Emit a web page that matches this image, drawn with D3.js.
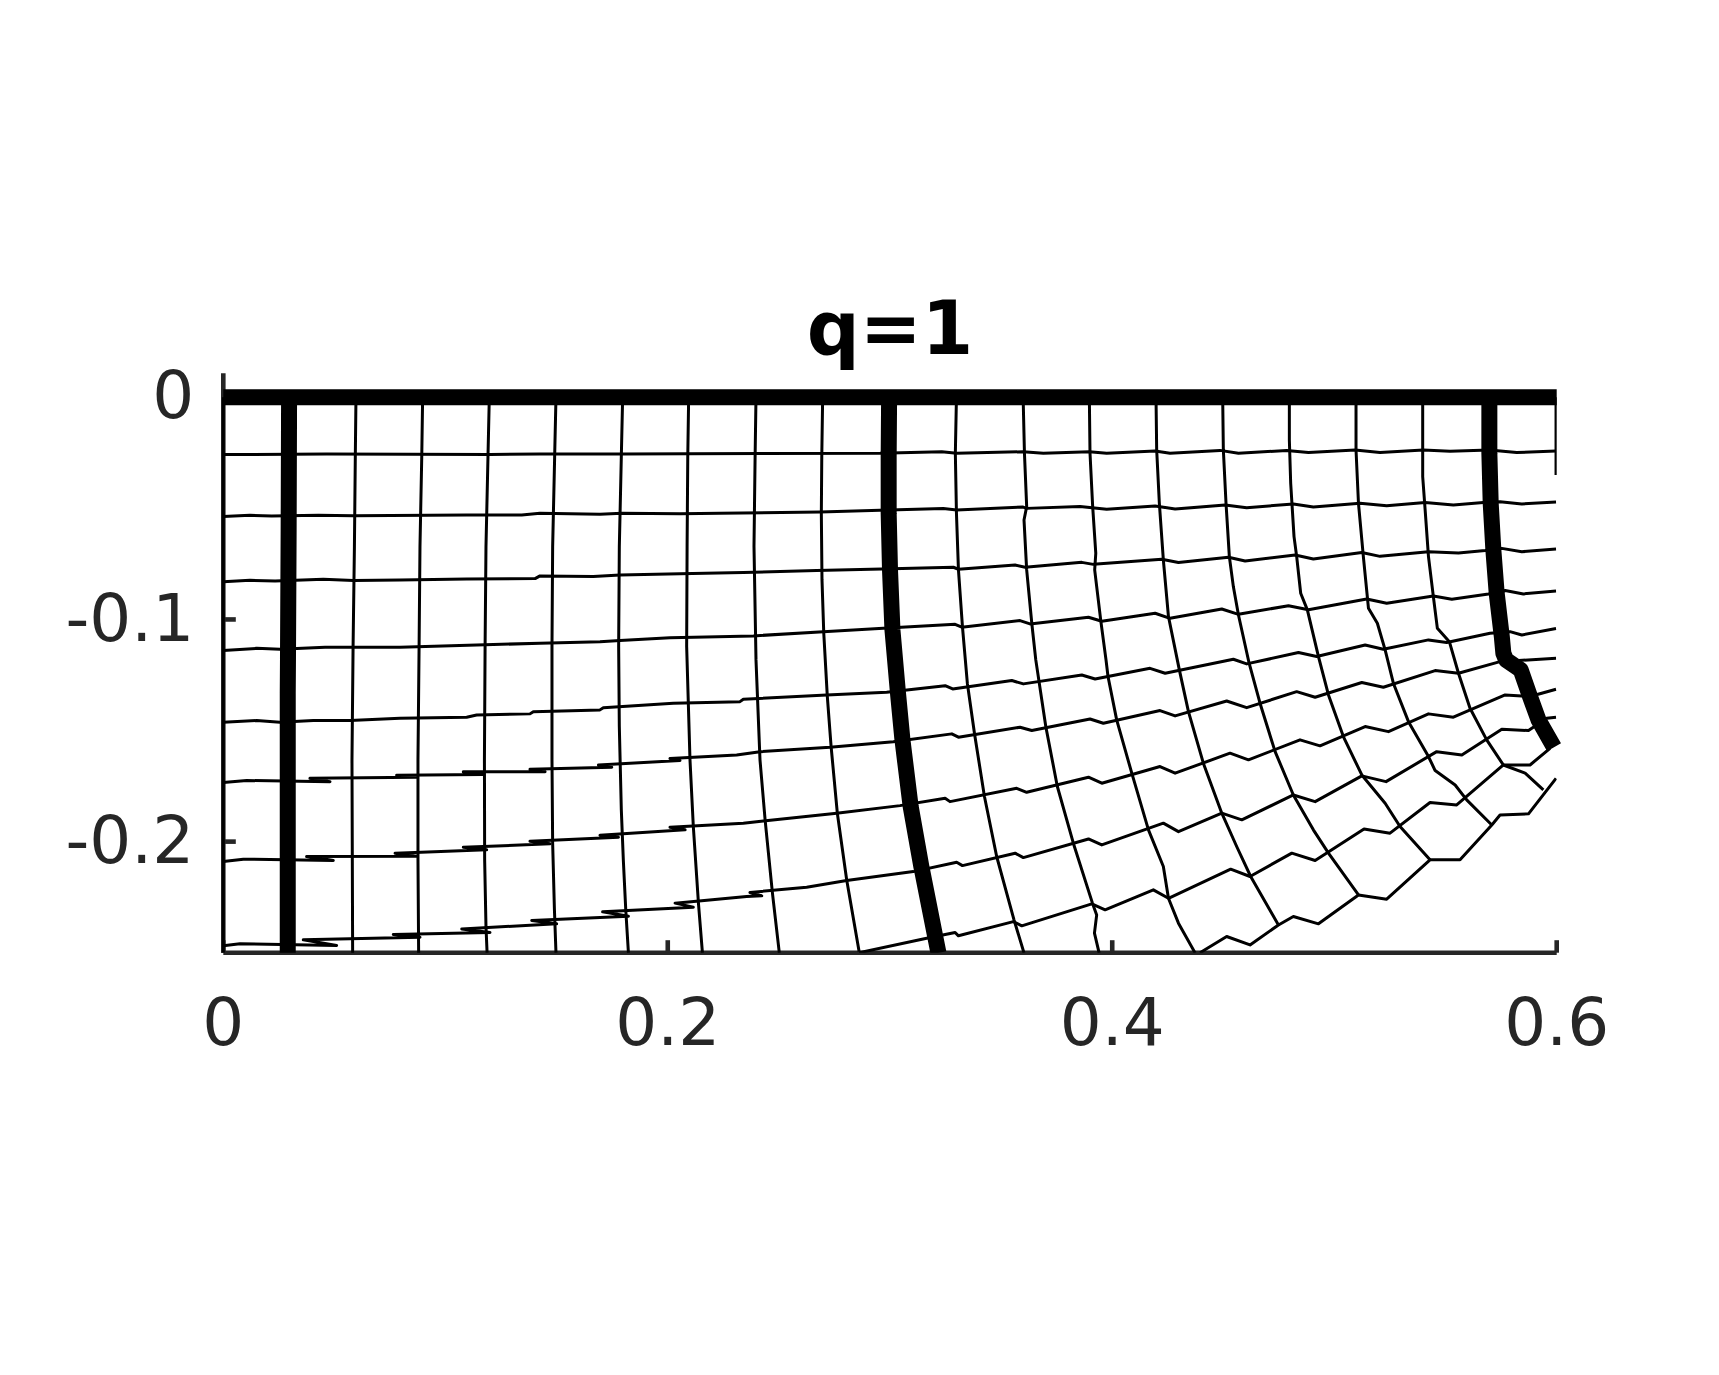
<!DOCTYPE html>
<html>
<head>
<meta charset="utf-8">
<script src="https://cdn.jsdelivr.net/npm/d3@7"></script>
<style>
	body { margin: 0; background: #fff; }
	text { font-family: "DejaVu Sans", sans-serif; }
</style>
</head>
<body>
<div id="chart"></div>
<script>
const title = "q=1";
const xTicks = [0, 0.2, 0.4, 0.6];
const yTicks = [0, -0.1, -0.2];

// mesh lines, [x, y]
const row0 = [[0,0],[0.6,0]];
const row1 = [[0,-0.0258],[0.0465,-0.0255],[0.12,-0.0258],[0.1425,-0.0255],[0.1797,-0.0255],[0.2093,-0.0254],[0.2955,-0.0252],[0.3233,-0.0245],[0.33,-0.0252],[0.3599,-0.0245],[0.369,-0.0252],[0.3897,-0.0245],[0.3975,-0.0252],[0.4193,-0.0242],[0.426,-0.0252],[0.4485,-0.0239],[0.4568,-0.0252],[0.4785,-0.0239],[0.4883,-0.0249],[0.5093,-0.0237],[0.5205,-0.0248],[0.54,-0.0237],[0.552,-0.0243],[0.5697,-0.0237],[0.582,-0.0249],[0.5997,-0.0242]];
const row2 = [[0,-0.0537],[0.012,-0.0531],[0.0218,-0.0534],[0.0428,-0.0531],[0.0585,-0.0533],[0.1095,-0.053],[0.1343,-0.053],[0.1425,-0.0522],[0.1695,-0.0527],[0.1793,-0.0522],[0.2055,-0.0524],[0.2235,-0.0522],[0.2685,-0.0516],[0.2955,-0.0509],[0.324,-0.0501],[0.33,-0.0507],[0.3599,-0.0494],[0.3615,-0.05],[0.3855,-0.0492],[0.3975,-0.0504],[0.4193,-0.0489],[0.4283,-0.0503],[0.4508,-0.0485],[0.4605,-0.0497],[0.4815,-0.048],[0.4905,-0.0494],[0.5115,-0.0477],[0.5235,-0.0488],[0.5408,-0.0474],[0.5535,-0.0485],[0.567,-0.0474],[0.5745,-0.047],[0.5843,-0.048],[0.5997,-0.0471]];
const row3 = [[0,-0.083],[0.012,-0.0824],[0.0233,-0.0827],[0.045,-0.0819],[0.0585,-0.0825],[0.0795,-0.0822],[0.1095,-0.0818],[0.1403,-0.0816],[0.1425,-0.0804],[0.1665,-0.0807],[0.1785,-0.08],[0.2055,-0.0794],[0.234,-0.0789],[0.267,-0.078],[0.2963,-0.0773],[0.3285,-0.0765],[0.3308,-0.0774],[0.3563,-0.0755],[0.3608,-0.0765],[0.3863,-0.0743],[0.3915,-0.0752],[0.4223,-0.0729],[0.4298,-0.0744],[0.4523,-0.072],[0.4598,-0.0737],[0.4823,-0.071],[0.4905,-0.0728],[0.5123,-0.0699],[0.5205,-0.0716],[0.5423,-0.0695],[0.5558,-0.0701],[0.5678,-0.069],[0.5753,-0.068],[0.5843,-0.0695],[0.5997,-0.0683]];
const row4 = [[0,-0.114],[0.015,-0.113],[0.0255,-0.1134],[0.0458,-0.1125],[0.0795,-0.1125],[0.114,-0.1115],[0.1425,-0.1107],[0.1695,-0.11],[0.1785,-0.1095],[0.201,-0.1082],[0.2385,-0.1074],[0.27,-0.1055],[0.297,-0.104],[0.3293,-0.1022],[0.3323,-0.1035],[0.3585,-0.1005],[0.363,-0.102],[0.3893,-0.099],[0.3953,-0.1008],[0.4193,-0.0972],[0.426,-0.0995],[0.4493,-0.0953],[0.4568,-0.0977],[0.4793,-0.0938],[0.4883,-0.0956],[0.5145,-0.0908],[0.5235,-0.0927],[0.5445,-0.0894],[0.5528,-0.0909],[0.5693,-0.0885],[0.5768,-0.087],[0.585,-0.0885],[0.5997,-0.0872]];
const row5 = [[0,-0.1463],[0.015,-0.1455],[0.0255,-0.1463],[0.0405,-0.1455],[0.057,-0.1455],[0.0795,-0.1445],[0.1095,-0.144],[0.114,-0.143],[0.138,-0.1425],[0.1395,-0.1415],[0.1695,-0.1407],[0.171,-0.1397],[0.2025,-0.1377],[0.2325,-0.137],[0.234,-0.1359],[0.2715,-0.134],[0.2985,-0.1328],[0.3248,-0.1298],[0.3282,-0.1313],[0.3548,-0.1275],[0.36,-0.129],[0.3863,-0.125],[0.3923,-0.1268],[0.417,-0.122],[0.4238,-0.1242],[0.4545,-0.1179],[0.4605,-0.12],[0.4838,-0.1149],[0.492,-0.1167],[0.5138,-0.1115],[0.522,-0.1134],[0.5423,-0.1092],[0.5505,-0.1104],[0.57,-0.1062],[0.579,-0.1055],[0.5843,-0.107],[0.5997,-0.1041]];
const row6 = [[0,-0.1734],[0.0105,-0.1725],[0.048,-0.173],[0.039,-0.1715],[0.087,-0.171],[0.078,-0.1701],[0.117,-0.1698],[0.108,-0.1686],[0.1448,-0.1685],[0.138,-0.1674],[0.1748,-0.1665],[0.1688,-0.1655],[0.2055,-0.1635],[0.201,-0.1626],[0.231,-0.161],[0.2415,-0.1595],[0.273,-0.1575],[0.3015,-0.155],[0.3278,-0.1515],[0.3308,-0.153],[0.3585,-0.1485],[0.3638,-0.15],[0.39,-0.1448],[0.396,-0.1467],[0.4215,-0.141],[0.4283,-0.1434],[0.4515,-0.1367],[0.4605,-0.1397],[0.483,-0.1325],[0.4913,-0.135],[0.5123,-0.1284],[0.522,-0.1305],[0.5453,-0.123],[0.5558,-0.1242],[0.5745,-0.119],[0.5997,-0.1175]];
const row7 = [[0,-0.209],[0.009,-0.2079],[0.0495,-0.2085],[0.0375,-0.2067],[0.087,-0.2066],[0.0773,-0.2052],[0.1185,-0.2037],[0.108,-0.2025],[0.147,-0.201],[0.138,-0.1998],[0.1778,-0.198],[0.1695,-0.1971],[0.2078,-0.1947],[0.201,-0.1935],[0.234,-0.1917],[0.243,-0.1907],[0.276,-0.1872],[0.3045,-0.1838],[0.3248,-0.1805],[0.327,-0.182],[0.357,-0.176],[0.3615,-0.1778],[0.3893,-0.171],[0.3953,-0.1737],[0.4215,-0.1662],[0.4283,-0.1692],[0.453,-0.1602],[0.4613,-0.1632],[0.4845,-0.1542],[0.4935,-0.1569],[0.5138,-0.1482],[0.5243,-0.1505],[0.5423,-0.1425],[0.5535,-0.144],[0.5768,-0.134],[0.588,-0.1347],[0.5997,-0.1314]];
const row8 = [[0,-0.2469],[0.0075,-0.246],[0.051,-0.2468],[0.036,-0.2442],[0.0885,-0.243],[0.0765,-0.2418],[0.12,-0.2409],[0.1073,-0.2393],[0.15,-0.237],[0.1388,-0.2355],[0.1823,-0.2336],[0.1707,-0.2316],[0.2115,-0.2295],[0.2033,-0.2277],[0.2355,-0.2247],[0.2423,-0.2244],[0.237,-0.2229],[0.2625,-0.2205],[0.2805,-0.2175],[0.3105,-0.2135],[0.33,-0.2093],[0.3326,-0.2108],[0.3563,-0.2052],[0.36,-0.2072],[0.3893,-0.1988],[0.3953,-0.2015],[0.423,-0.1917],[0.4298,-0.1955],[0.4493,-0.1872],[0.4583,-0.1902],[0.4815,-0.179],[0.4913,-0.182],[0.5123,-0.1704],[0.5232,-0.173],[0.546,-0.1595],[0.5573,-0.161],[0.5753,-0.1494],[0.5873,-0.15],[0.5955,-0.1445],[0.5997,-0.144]];
const row9 = [[0.2861,-0.25],[0.3165,-0.2435],[0.3293,-0.2409],[0.3308,-0.2424],[0.3555,-0.236],[0.3593,-0.2379],[0.3908,-0.228],[0.3968,-0.2307],[0.4185,-0.2217],[0.4253,-0.2255],[0.4533,-0.2124],[0.462,-0.2157],[0.4808,-0.2052],[0.4913,-0.2085],[0.5133,-0.1943],[0.525,-0.1962],[0.543,-0.1824],[0.555,-0.1835],[0.576,-0.1655],[0.588,-0.1655],[0.597,-0.158]];
const row10 = [[0.4395,-0.25],[0.4515,-0.2427],[0.462,-0.2465],[0.4748,-0.2375],[0.4815,-0.2337],[0.4928,-0.237],[0.5108,-0.224],[0.5235,-0.2259],[0.543,-0.2082],[0.5565,-0.2082],[0.5708,-0.1925],[0.5745,-0.188],[0.5873,-0.1875],[0.5997,-0.1715]];

const col0 = [[0,0],[0,-0.25]];
const col1 = [[0.0296,0],[0.0294,-0.0597],[0.0291,-0.1182],[0.029,-0.1332],[0.029,-0.2501]];
const col2 = [[0.0597,0],[0.0594,-0.0267],[0.059,-0.0672],[0.0584,-0.1122],[0.0579,-0.1632],[0.0582,-0.2501]];
const col3 = [[0.0897,0],[0.0893,-0.0267],[0.0885,-0.0672],[0.0881,-0.1122],[0.0876,-0.1632],[0.0876,-0.2082],[0.0879,-0.2501]];
const col4 = [[0.1197,0],[0.1191,-0.0267],[0.1182,-0.0672],[0.1178,-0.1122],[0.1175,-0.1632],[0.1176,-0.2082],[0.1182,-0.2382],[0.1187,-0.2501]];
const col5 = [[0.1497,0],[0.1491,-0.0267],[0.1482,-0.0672],[0.1479,-0.1122],[0.1479,-0.1632],[0.1482,-0.2007],[0.149,-0.2307],[0.1497,-0.2501]];
const col6 = [[0.1797,0],[0.1791,-0.0267],[0.1782,-0.0672],[0.1779,-0.1122],[0.1782,-0.1482],[0.1791,-0.1857],[0.18,-0.2082],[0.1811,-0.2307],[0.1823,-0.2501]];
const col7 = [[0.2094,0],[0.209,-0.0267],[0.2087,-0.0672],[0.2085,-0.1122],[0.21,-0.1632],[0.2115,-0.1932],[0.2138,-0.2277],[0.2156,-0.2501]];
const col8 = [[0.2397,0],[0.2393,-0.0267],[0.2388,-0.0672],[0.2397,-0.1182],[0.2415,-0.1632],[0.2438,-0.1902],[0.2471,-0.2232],[0.2502,-0.2501]];
const col9 = [[0.2697,0],[0.2693,-0.0267],[0.2691,-0.0522],[0.2694,-0.0822],[0.2702,-0.1062],[0.2718,-0.1347],[0.2735,-0.1572],[0.2763,-0.1872],[0.2805,-0.2172],[0.2861,-0.2495]];
const col10 = [[0.2996,0],[0.2994,-0.0267],[0.2994,-0.0522],[0.3,-0.0777],[0.3011,-0.1047],[0.3036,-0.1332],[0.3056,-0.1542],[0.3093,-0.1842],[0.3141,-0.2112],[0.3218,-0.2501]];
const col11 = [[0.3299,0],[0.3294,-0.0252],[0.3299,-0.0522],[0.3308,-0.0777],[0.3326,-0.1032],[0.3339,-0.1182],[0.3348,-0.1287],[0.338,-0.1512],[0.3425,-0.1797],[0.348,-0.2067],[0.3558,-0.2352],[0.3603,-0.2501]];
const col12 = [[0.3599,0],[0.3605,-0.0252],[0.3615,-0.0492],[0.3603,-0.0552],[0.3615,-0.0777],[0.3638,-0.1017],[0.3656,-0.1182],[0.3701,-0.1482],[0.3753,-0.1752],[0.3825,-0.2007],[0.3911,-0.2277],[0.393,-0.233],[0.392,-0.2412],[0.3941,-0.2501]];
const col13 = [[0.3897,0],[0.39,-0.0252],[0.3912,-0.0492],[0.3926,-0.0702],[0.3921,-0.0777],[0.3948,-0.1002],[0.3972,-0.1182],[0.3981,-0.1257],[0.402,-0.1452],[0.4088,-0.1692],[0.4163,-0.1947],[0.423,-0.2112],[0.4253,-0.2255],[0.4298,-0.2367],[0.4373,-0.2501]];
const col14 = [[0.4197,0],[0.42,-0.0237],[0.4212,-0.0477],[0.423,-0.0732],[0.4253,-0.0987],[0.4302,-0.1227],[0.4343,-0.1415],[0.441,-0.1647],[0.4493,-0.1872],[0.456,-0.2022],[0.4623,-0.2157],[0.4748,-0.2375]];
const col15 = [[0.4497,0],[0.45,-0.0237],[0.4512,-0.0477],[0.4527,-0.0717],[0.4545,-0.0852],[0.4568,-0.098],[0.4616,-0.1197],[0.4665,-0.1377],[0.4733,-0.1595],[0.4815,-0.179],[0.4905,-0.1947],[0.4973,-0.2052],[0.5108,-0.224]];
const col16 = [[0.4797,0],[0.4797,-0.0192],[0.4803,-0.0387],[0.4818,-0.0627],[0.483,-0.0717],[0.4848,-0.0882],[0.4878,-0.0957],[0.4928,-0.1167],[0.4973,-0.134],[0.504,-0.1527],[0.5123,-0.17],[0.5228,-0.1827],[0.5295,-0.1932],[0.543,-0.2082]];
const col17 = [[0.5097,0],[0.5097,-0.0237],[0.5108,-0.0477],[0.513,-0.0717],[0.5153,-0.095],[0.5193,-0.1017],[0.5228,-0.1137],[0.5265,-0.1287],[0.5333,-0.146],[0.5423,-0.1617],[0.5453,-0.168],[0.5543,-0.1745],[0.5595,-0.1812],[0.5708,-0.1925]];
const col18 = [[0.5397,0],[0.5397,-0.0357],[0.5408,-0.0507],[0.5423,-0.0717],[0.5445,-0.0897],[0.5463,-0.104],[0.5517,-0.11],[0.5558,-0.1242],[0.561,-0.14],[0.5685,-0.1542],[0.576,-0.1655],[0.5858,-0.1692],[0.594,-0.1767]];
const col19 = [[0.5697,0],[0.5697,-0.0252],[0.5703,-0.0477],[0.5715,-0.0687],[0.573,-0.0882],[0.5753,-0.1077],[0.576,-0.1152],[0.5772,-0.1182],[0.5838,-0.1227],[0.588,-0.1347],[0.5918,-0.1452],[0.5988,-0.1575]];
const col20 = [[0.5997,0],[0.5997,-0.035]];

const thinLines = [row1, row2, row3, row4, row5, row6, row7, row8, row9, row10,
	col0, col2, col3, col4, col5, col6, col7, col8, col9, col11, col12, col13, col14, col15, col16, col17, col18, col20];
const thickLines = [row0, col1, col10, col19];

const size = { w: 1719, h: 1375 };
const box = { l: 223.3, r: 1556.7, t: 373.3, b: 952.7 };
const axisColor = "#262626";

const x = d3.scaleLinear().domain([0, 0.6]).range([box.l, box.r]);
const y = d3.scaleLinear().domain([-0.25, 0.0108]).range([box.b, box.t]);

const svg = d3
	.select("#chart")
	.append("svg")
	.attr("width", size.w)
	.attr("height", size.h)
	.style("display", "block");

const defs = svg.append("defs");
defs.append("clipPath")
	.attr("id", "thin-clip")
	.append("rect")
	.attr("x", box.l - 2)
	.attr("y", box.t)
	.attr("width", box.r - box.l + 2)
	.attr("height", box.b - box.t);
defs.append("clipPath")
	.attr("id", "thick-clip")
	.append("rect")
	.attr("x", box.l - 2)
	.attr("y", box.t)
	.attr("width", box.r - box.l + 12)
	.attr("height", box.b - box.t);

const line = d3.line().x((d) => x(d[0])).y((d) => y(d[1]));

const xAxis = d3
	.axisBottom(x)
	.tickValues(xTicks)
	.tickFormat((d) => String(d))
	.tickSizeInner(-12.5)
	.tickSizeOuter(0)
	.tickPadding(45)
	.offset(0);
const yAxis = d3
	.axisLeft(y)
	.tickValues(yTicks)
	.tickFormat((d) => String(d))
	.tickSizeInner(-12.5)
	.tickSizeOuter(0)
	.tickPadding(29)
	.offset(0);

svg.append("g").attr("transform", `translate(0, ${box.b})`).call(xAxis);
svg.append("g").attr("transform", `translate(${box.l}, 0)`).call(yAxis);

svg.selectAll(".domain, .tick line")
	.attr("stroke", axisColor)
	.attr("stroke-width", 4.6);
svg.selectAll(".tick text")
	.attr("fill", axisColor)
	.style("font-size", "66px")
	.style("font-family", '"DejaVu Sans", sans-serif');

svg.append("g")
	.attr("clip-path", "url(#thin-clip)")
	.selectAll("path")
	.data(thinLines)
	.join("path")
	.attr("d", line)
	.attr("fill", "none")
	.attr("stroke", "#000")
	.attr("stroke-width", 3)
	.attr("stroke-linejoin", "round");

svg.append("g")
	.attr("clip-path", "url(#thick-clip)")
	.selectAll("path")
	.data(thickLines)
	.join("path")
	.attr("d", line)
	.attr("fill", "none")
	.attr("stroke", "#000")
	.attr("stroke-width", 16)
	.attr("stroke-linejoin", "round");

svg.append("text")
	.attr("x", (box.l + box.r) / 2)
	.attr("y", 354)
	.attr("text-anchor", "middle")
	.attr("fill", "#000")
	.style("font-size", "74px")
	.style("font-weight", "bold")
	.text(title);
</script>
</body>
</html>
